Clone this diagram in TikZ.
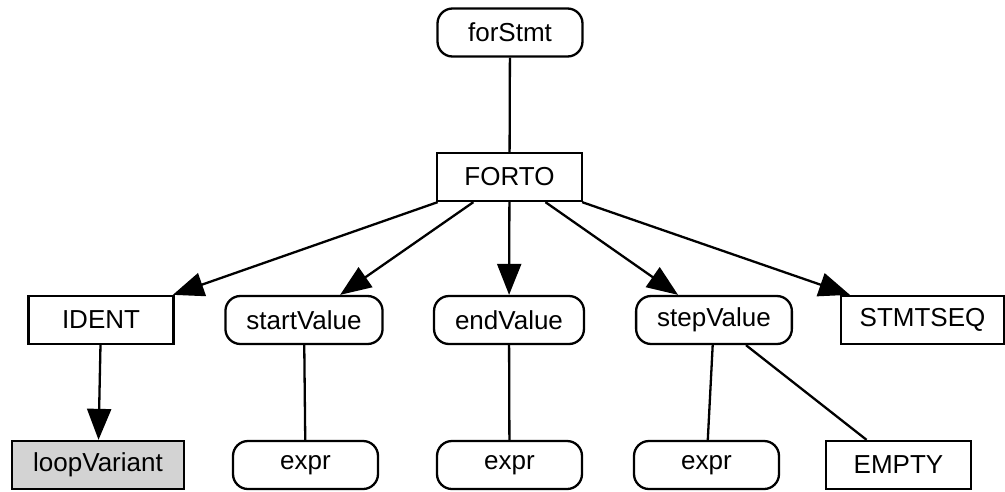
\documentclass[tikz,border=0pt]{standalone}
\usepackage{fontspec}
\setmainfont{Liberation Sans}
\usepackage{tikz}
\usetikzlibrary{arrows.meta}
\definecolor{varfill}{RGB}{211,211,211}

\begin{document}
\begin{tikzpicture}[x=1pt, y=-1pt, line width=2.3pt,
    every node/.style={draw, line width=2.3pt, font=\fontsize{26}{30}\selectfont,
      minimum width=145pt, minimum height=48pt, inner xsep=21pt},
    rnd/.style={rounded corners=15pt},
    sq/.style={sharp corners},
    tip/.style={-{Triangle[length=31pt,width=24pt]}}]
    \useasboundingbox (0,0) rectangle (1005,491);
    % Root
    \node[rnd] (forstmt) at (510,32.5) {forStmt};
    \node[sq] (forto) at (509.5,177) {FORTO};
    \draw (forstmt) -- (forto);
    % Children of FORTO
    \node[sq] (ident) at (101,320) {IDENT};
    \node[rnd] (startval) at (304,320) {startValue};
    \node[rnd] (endval) at (509,320) {endValue};
    \node[rnd] (stepval) at (714,320) {stepValue};
    \node[sq, minimum width=163pt, inner xsep=0pt] (stmtseq) at (922.5,320) {STMTSEQ};
    \foreach \c in {ident,startval,endval,stepval,stmtseq}
      \draw[tip] (forto) -- (\c);
    % Bottom row
    \node[sq, fill=varfill] (loopvar) at (98,465) {loopVariant};
    \node[rnd] (exprA) at (305.5,465) {expr};
    \node[rnd] (exprB) at (509.5,465) {expr};
    \node[rnd] (exprC) at (706.5,465) {expr};
    \node[sq] (empty) at (898.5,465) {EMPTY};
    \draw[tip] (ident) -- (loopvar);
    \draw (startval) -- (exprA);
    \draw (endval) -- (exprB);
    \draw (stepval) -- (exprC);
    \draw (stepval) -- (empty);
\end{tikzpicture}
\end{document}
